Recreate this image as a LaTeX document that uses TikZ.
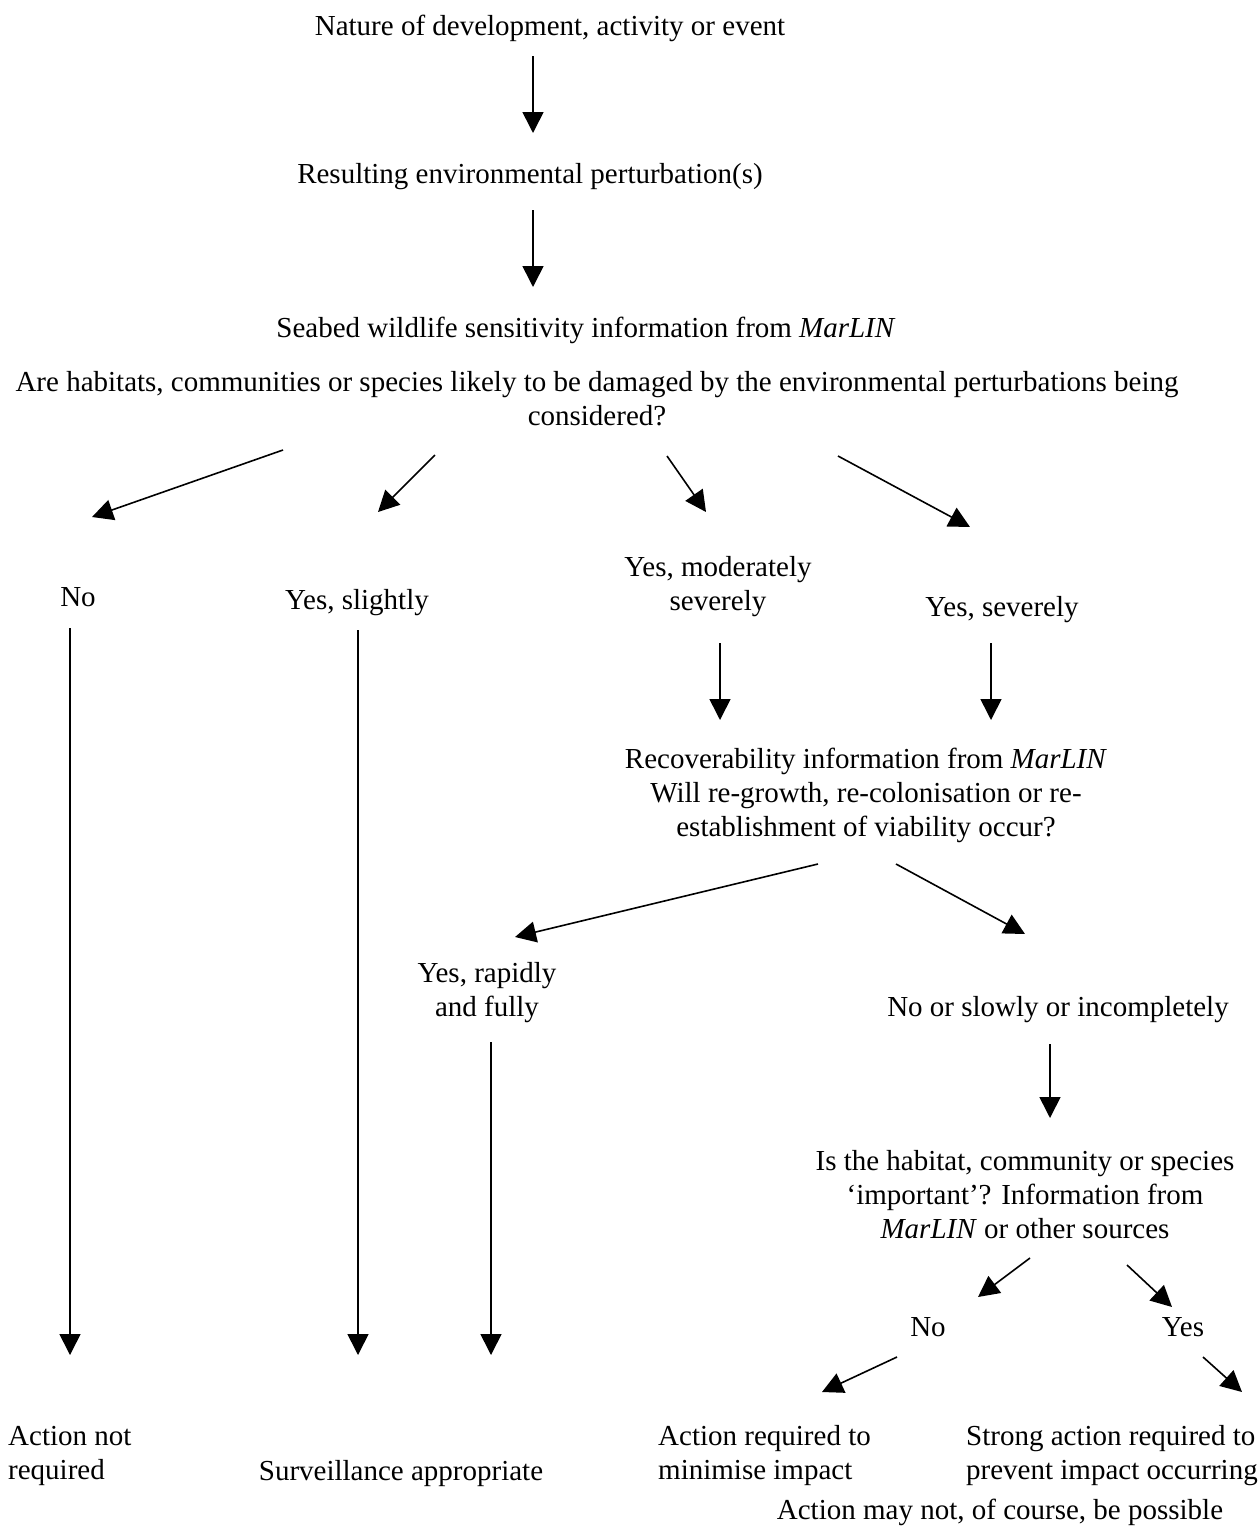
\documentclass[tikz,border=0pt]{standalone}
\usepackage{fontspec}
\setmainfont{Liberation Serif}
\usetikzlibrary{arrows.meta}
\tikzset{
  lbl/.style={inner sep=0pt, align=center, font=\fontsize{29}{34}\selectfont},
  lbll/.style={inner sep=0pt, align=left, anchor=west, font=\fontsize{29}{34}\selectfont},
  arr/.style={line width=1.6pt, -{Triangle[length=21pt,width=21pt]}}
}
\begin{document}
\begin{tikzpicture}[x=1pt,y=-1pt]
\useasboundingbox[fill=white] (0,0) rectangle (1260,1531);
% text nodes
\node[lbl] (n1) at (550,28) {Nature of development, activity or event};
\node[lbl] (n2) at (530,177) {Resulting environmental perturbation(s)};
\node[lbl] (n3) at (586,330) {Seabed wildlife sensitivity information from \textit{MarLIN}};
\node[lbl] (n4) at (597,399) {Are habitats, communities or species likely to be damaged by the environmental perturbations being\\considered?};
\node[lbl] (no1) at (78,597) {No};
\node[lbl] (ys) at (357,603) {Yes, slightly};
\node[lbl] (ym) at (718,587) {Yes, moderately\\severely};
\node[lbl] (ysev) at (1002,610) {Yes, severely};
\node[lbl] (rec) at (866,795) {Recoverability information from \textit{MarLIN}\\Will re-growth, re-colonisation or re-\\establishment of viability occur?};
\node[lbl] (yr) at (487,993) {Yes, rapidly\\and fully};
\node[lbl] (nsi) at (1058,1010) {No or slowly or incompletely};
\node[lbl] (imp) at (1025,1195) {Is the habitat, community or species\\`important'? Information from\\\textit{MarLIN} or other sources};
\node[lbl] (no2) at (928,1327) {No};
\node[lbl] (yes2) at (1183,1327) {Yes};
\node[lbll] (anr) at (8,1456) {Action not\\required};
\node[lbl] (surv) at (401,1474) {Surveillance appropriate};
\node[lbll] (arm) at (658,1456) {Action required to\\minimise impact};
\node[lbll] (sar) at (966,1456) {Strong action required to\\prevent impact occurring};
\node[lbl] (amn) at (1000,1512) {Action may not, of course, be possible};
% arrow end points
\coordinate (a1s) at (533,56);   \coordinate (a1e) at (533,133);
\coordinate (a2s) at (533,210);  \coordinate (a2e) at (533,287);
\coordinate (aas) at (283,450);  \coordinate (aae) at (92,517);
\coordinate (abs) at (435,455);  \coordinate (abe) at (378,512);
\coordinate (acs) at (667,456);  \coordinate (ace) at (706,512);
\coordinate (ads) at (838,456);  \coordinate (ade) at (970,527);
\coordinate (ans) at (70,628);   \coordinate (ane) at (70,1355);
\coordinate (ass) at (358,630);  \coordinate (ase) at (358,1355);
\coordinate (ars) at (491,1042); \coordinate (are) at (491,1355);
\coordinate (ams) at (720,643);  \coordinate (ame) at (720,720);
\coordinate (avs) at (991,643);  \coordinate (ave) at (991,720);
\coordinate (r1s) at (818,864);  \coordinate (r1e) at (515,937);
\coordinate (r2s) at (896,864);  \coordinate (r2e) at (1025,934);
\coordinate (nss) at (1050,1044); \coordinate (nse) at (1050,1118);
\coordinate (i1s) at (1030,1258); \coordinate (i1e) at (978,1297);
\coordinate (i2s) at (1127,1265); \coordinate (i2e) at (1172,1307);
\coordinate (o1s) at (897,1357); \coordinate (o1e) at (822,1392);
\coordinate (o2s) at (1203,1357); \coordinate (o2e) at (1242,1392);
% arrows
\draw[arr] (a1s) -- (a1e);
\draw[arr] (a2s) -- (a2e);
\draw[arr] (aas) -- (aae);
\draw[arr] (abs) -- (abe);
\draw[arr] (acs) -- (ace);
\draw[arr] (ads) -- (ade);
\draw[arr] (ans) -- (ane);
\draw[arr] (ass) -- (ase);
\draw[arr] (ars) -- (are);
\draw[arr] (ams) -- (ame);
\draw[arr] (avs) -- (ave);
\draw[arr] (r1s) -- (r1e);
\draw[arr] (r2s) -- (r2e);
\draw[arr] (nss) -- (nse);
\draw[arr] (i1s) -- (i1e);
\draw[arr] (i2s) -- (i2e);
\draw[arr] (o1s) -- (o1e);
\draw[arr] (o2s) -- (o2e);
\end{tikzpicture}
\end{document}
